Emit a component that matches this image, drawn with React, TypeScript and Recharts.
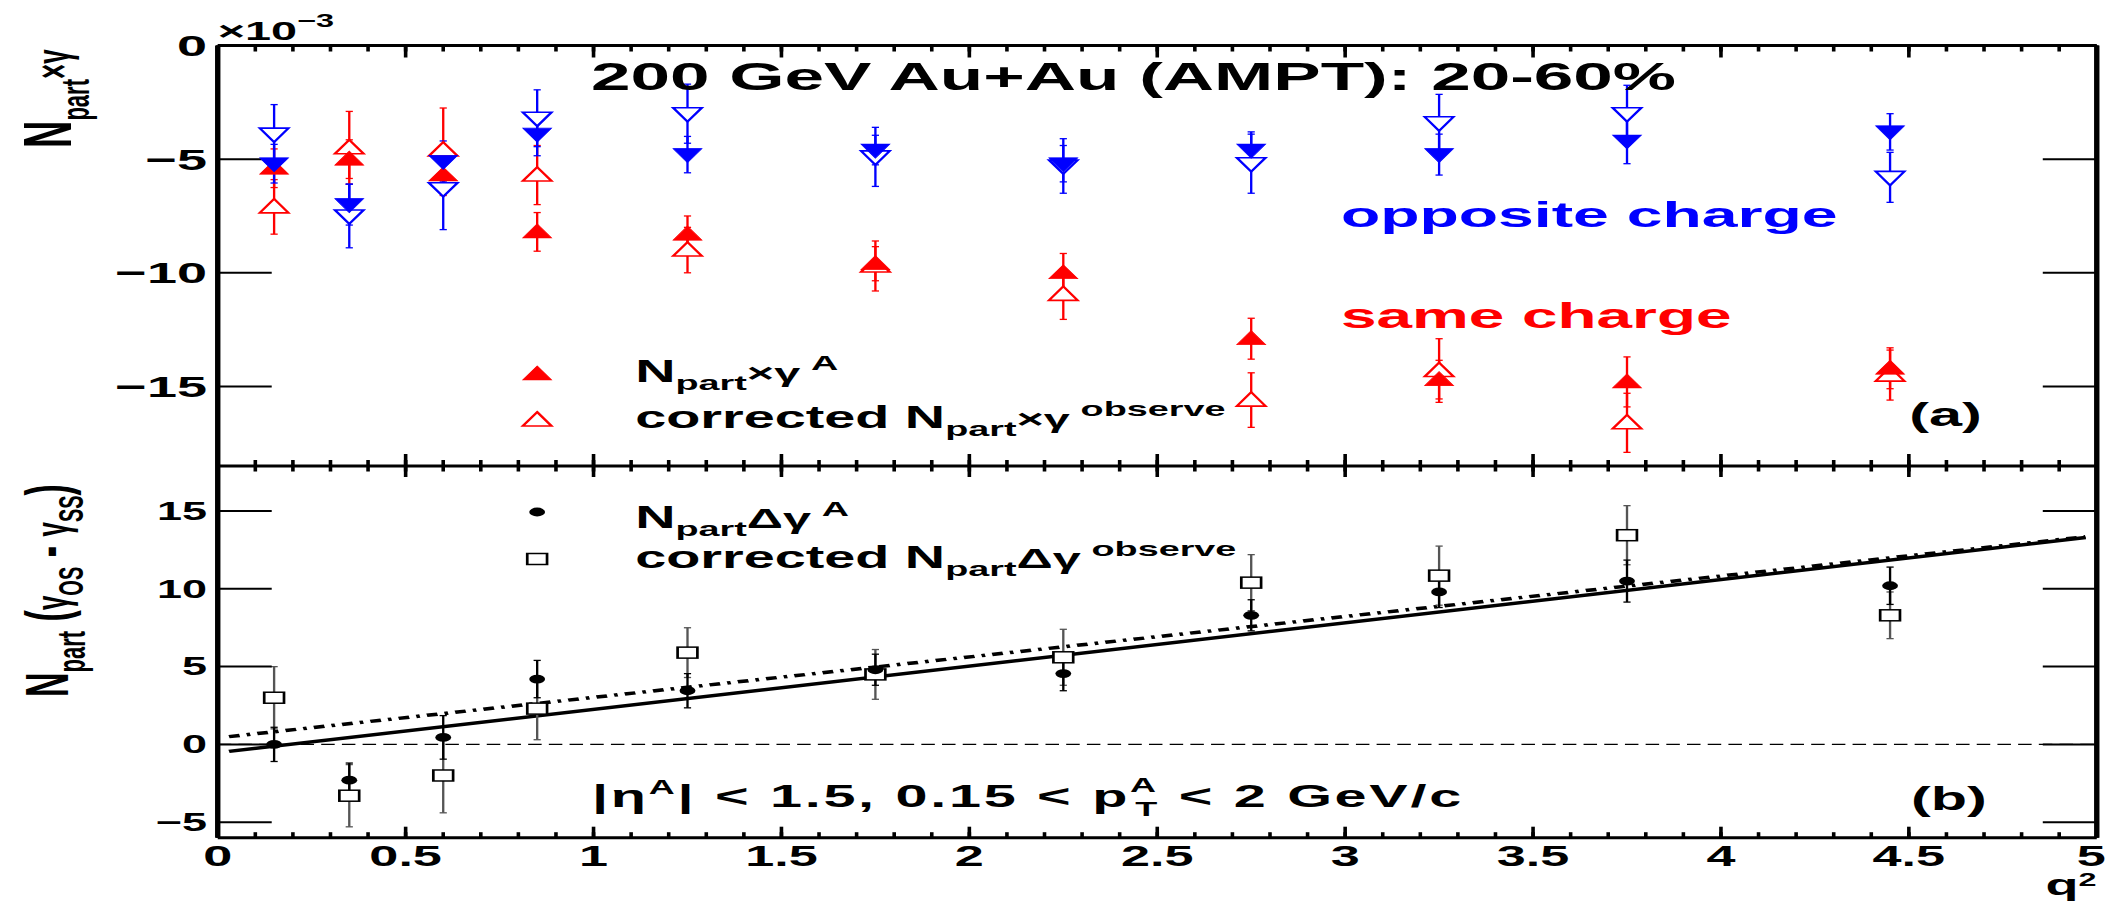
import React from 'react';
import { ComposedChart, Scatter, Line, XAxis, YAxis, ErrorBar, ReferenceLine, Legend, Text } from 'recharts';

// the reference is a ROOT figure stretched sideways, so everything is drawn
// at native width and scaled in x by the container
const W = 1172;
const SX = 2109 / W;

const qBins = [0.15, 0.35, 0.6, 0.85, 1.25, 1.75, 2.25, 2.75, 3.25, 3.75, 4.45];

// panel (a), N_part x gamma in units of 1e-3
const osA = [-5.2, -7.0, -5.1, -3.9, -4.8, -4.6, -5.2, -4.6, -4.8, -4.2, -3.8];
const osAErr = [0.85, 0.9, 0.9, 0.95, 0.8, 0.65, 0.8, 0.8, 0.9, 1.0, 0.8];
const osObs = [-3.9, -7.5, -6.3, -3.2, -3.0, -4.9, -5.3, -5.2, -3.4, -3.0, -5.8];
const osObsErr = [1.3, 1.4, 1.8, 1.25, 1.3, 1.3, 1.2, 1.3, 1.25, 1.25, 1.1];
const ssA = [-5.4, -5.0, -5.7, -8.2, -8.3, -9.6, -10.0, -12.9, -14.7, -14.8, -14.2];
const ssAErr = [0.85, 0.85, 0.9, 0.85, 0.8, 0.75, 0.85, 0.9, 0.85, 1.1, 0.9];
const ssObs = [-7.1, -4.5, -4.6, -5.7, -9.0, -9.7, -10.95, -15.6, -14.3, -16.6, -14.5];
const ssObsErr = [1.2, 1.6, 1.85, 1.3, 1.0, 1.1, 1.1, 1.2, 1.4, 1.3, 1.1];

// panel (b), N_part (gamma_OS - gamma_SS)
const dgA = [0.0, -2.3, 0.45, 4.2, 3.45, 4.8, 4.55, 8.3, 9.8, 10.5, 10.2];
const dgAErr = [1.1, 1.1, 1.4, 1.2, 1.1, 1.0, 1.1, 1.0, 1.0, 1.35, 1.2];
const dgObs = [3.0, -3.3, -2.0, 2.3, 5.9, 4.5, 5.6, 10.4, 10.85, 13.45, 8.3];
const dgObsErr = [2.0, 2.0, 2.4, 2.0, 1.6, 1.6, 1.8, 1.8, 1.9, 1.9, 1.5];

// linear fits
const fitQ = [0.03, 4.97];
const fitA = [-0.45, 13.3];
const fitObs = [0.5, 13.35];

const xMajorTicks = [0, 0.5, 1, 1.5, 2, 2.5, 3, 3.5, 4, 4.5, 5];
const xMinorTicks = Array.from({ length: 51 }, (_, i) => i / 10);
const yTicksA = [0, -5, -10, -15];
const yTicksB = [15, 10, 5, 0, -5];
const domainA = [-18.5, 0];
const domainB = [-6, 17.9];

const RED = '#ff0000';
const BLUE = '#0000ff';

const pts = (vals: number[], errs: number[]) => qBins.map((q, i) => ({ q, v: vals[i], e: errs[i] }));
const fitPts = (vals: number[]) => fitQ.map((q, i) => ({ q, v: vals[i] }));

const triUp = (color: string, open: boolean) => (p: any) => (
  <path
    d={`M${p.cx},${p.cy - 8}L${p.cx + 8},${p.cy + 6}L${p.cx - 8},${p.cy + 6}Z`}
    fill={open ? '#fff' : color}
    stroke={color}
    strokeWidth={open ? 1.6 : 0.6}
  />
);
const triDown = (color: string, open: boolean) => (p: any) => (
  <path
    d={`M${p.cx},${p.cy + 8}L${p.cx + 8},${p.cy - 6}L${p.cx - 8},${p.cy - 6}Z`}
    fill={open ? '#fff' : color}
    stroke={color}
    strokeWidth={open ? 1.6 : 0.6}
  />
);
const dot = (p: any) => <circle cx={p.cx} cy={p.cy} r={4.4} fill="#000" />;
const openSq = (p: any) => (
  <rect x={p.cx - 5.5} y={p.cy - 5.5} width={11} height={11} fill="#fff" stroke="#000" strokeWidth={1.5} />
);

const frame = { stroke: '#000', strokeWidth: 3 };
const tickLn = { stroke: '#000', strokeWidth: 2 };
const minus = (v: any) => String(v).replace('-', '\u2212');
const blank = () => '';

// x labels; the last one sits on the frame edge, pull it in a little
const XLabel = (p: any) => (
  <Text
    x={p.x - (p.payload.value === 5 ? 3 : 0)}
    y={p.y}
    textAnchor="middle"
    verticalAnchor="start"
    fontSize={29}
    fontWeight={700}
    fill="#000"
  >
    {String(p.payload.value)}
  </Text>
);

// inward ticks on all four sides, ROOT style
function frameAxes(yDomain: number[], yTicks: number[], major: number, minor: number) {
  const x = { type: 'number' as const, dataKey: 'q', domain: [0, 5], allowDataOverflow: true, interval: 0 as const, mirror: true, height: 0.01, tick: { fontSize: 1 }, tickFormatter: blank };
  const y = { type: 'number' as const, domain: yDomain, allowDataOverflow: true, interval: 0 as const, mirror: true, width: 0.01, tick: { fontSize: 1 }, tickFormatter: blank, ticks: yTicks, tickSize: 30, tickLine: tickLn };
  return [
    <XAxis key="bM" xAxisId="bM" orientation="bottom" ticks={xMajorTicks} tickSize={major} axisLine={frame} tickLine={tickLn} {...x} />,
    <XAxis key="bm" xAxisId="bm" orientation="bottom" ticks={xMinorTicks} tickSize={minor} axisLine={false} tickLine={tickLn} {...x} />,
    <XAxis key="tM" xAxisId="tM" orientation="top" ticks={xMajorTicks} tickSize={major} axisLine={frame} tickLine={tickLn} {...x} />,
    <XAxis key="tm" xAxisId="tm" orientation="top" ticks={xMinorTicks} tickSize={minor} axisLine={false} tickLine={tickLn} {...x} />,
    <YAxis key="lm" yAxisId="lm" orientation="left" axisLine={frame} {...y} />,
    <YAxis key="rm" yAxisId="rm" orientation="right" axisLine={frame} {...y} />,
  ];
}

const TopLegend = () => (
  <svg width={440} height={100} style={{ overflow: 'visible', fontWeight: 'bold' }}>
    {triUp(RED, false)({ cx: 18.5, cy: 24 })}
    <text x={73} y={32} fontSize={31}>
      N<tspan fontSize={21} dy={8}>part</tspan>
      <tspan fontSize={26} dy={-8}>×γ</tspan>
      <tspan fontSize={21} dy={-12} dx={6}>A</tspan>
    </text>
    {triUp(RED, true)({ cx: 18.5, cy: 70 })}
    <text x={73} y={78} fontSize={31}>
      corrected N<tspan fontSize={21} dy={8}>part</tspan>
      <tspan fontSize={26} dy={-8}>×γ</tspan>
      <tspan fontSize={21} dy={-12} dx={6}>observe</tspan>
    </text>
  </svg>
);

const BottomLegend = () => (
  <svg width={440} height={100} style={{ overflow: 'visible', fontWeight: 'bold' }}>
    {dot({ cx: 18.5, cy: 26 })}
    <text x={73} y={42} fontSize={31}>
      N<tspan fontSize={21} dy={8}>part</tspan>
      <tspan fontSize={28} dy={-8}>Δγ</tspan>
      <tspan fontSize={21} dy={-12} dx={6}>A</tspan>
    </text>
    {openSq({ cx: 18.5, cy: 73 })}
    <text x={73} y={82} fontSize={31}>
      corrected N<tspan fontSize={21} dy={8}>part</tspan>
      <tspan fontSize={28} dy={-8}>Δγ</tspan>
      <tspan fontSize={21} dy={-12} dx={6}>observe</tspan>
    </text>
  </svg>
);

export default function App() {
  return (
    <div
      style={{
        position: 'absolute',
        left: 0,
        top: 0,
        width: W,
        height: 903,
        transform: `scaleX(${SX})`,
        transformOrigin: '0 0',
        background: '#fff',
        fontFamily: '"Liberation Sans", Arial, Helvetica, sans-serif',
        fontWeight: 'bold',
      }}
    >
      <div style={{ position: 'absolute', left: 0, top: 0 }}>
        <ComposedChart width={W} height={466} margin={{ top: 45.5, right: 6.8, bottom: 0, left: 0 }}>
          {frameAxes(domainA, yTicksA, 12, 6)}
          <YAxis
            yAxisId="lab"
            type="number"
            domain={domainA}
            allowDataOverflow
            ticks={yTicksA}
            interval={0}
            width={121}
            axisLine={false}
            tickLine={false}
            tickSize={0}
            tickMargin={6}
            tick={{ fontSize: 30, fontWeight: 700, fill: '#000' }}
            tickFormatter={minus}
          />
          <Legend
            layout="horizontal"
            verticalAlign="middle"
            align="center"
            wrapperStyle={{ left: 280, top: 350, width: 440, height: 100 }}
            content={() => <TopLegend />}
          />
          <Scatter xAxisId="bM" yAxisId="lab" data={pts(ssObs, ssObsErr)} dataKey="v" shape={triUp(RED, true)} isAnimationActive={false}>
            <ErrorBar dataKey="e" direction="y" width={2} stroke={RED} strokeWidth={1.3} isAnimationActive={false} />
          </Scatter>
          <Scatter xAxisId="bM" yAxisId="lab" data={pts(ssA, ssAErr)} dataKey="v" shape={triUp(RED, false)} isAnimationActive={false}>
            <ErrorBar dataKey="e" direction="y" width={2} stroke={RED} strokeWidth={1.3} isAnimationActive={false} />
          </Scatter>
          <Scatter xAxisId="bM" yAxisId="lab" data={pts(osObs, osObsErr)} dataKey="v" shape={triDown(BLUE, true)} isAnimationActive={false}>
            <ErrorBar dataKey="e" direction="y" width={2} stroke={BLUE} strokeWidth={1.3} isAnimationActive={false} />
          </Scatter>
          <Scatter xAxisId="bM" yAxisId="lab" data={pts(osA, osAErr)} dataKey="v" shape={triDown(BLUE, false)} isAnimationActive={false}>
            <ErrorBar dataKey="e" direction="y" width={2} stroke={BLUE} strokeWidth={1.3} isAnimationActive={false} />
          </Scatter>
        </ComposedChart>
      </div>

      <div style={{ position: 'absolute', left: 0, top: 466 }}>
        <ComposedChart width={W} height={437} margin={{ top: 0, right: 6.8, bottom: 0, left: 0 }}>
          {frameAxes(domainB, yTicksB, 11, 5.5)}
          <XAxis
            xAxisId="lab"
            type="number"
            dataKey="q"
            domain={[0, 5]}
            allowDataOverflow
            ticks={xMajorTicks}
            interval={0}
            height={65.3}
            axisLine={false}
            tickLine={false}
            tickSize={0}
            tickMargin={8}
            tick={<XLabel />}
          />
          <YAxis
            yAxisId="lab"
            type="number"
            domain={domainB}
            allowDataOverflow
            ticks={yTicksB}
            interval={0}
            width={121}
            axisLine={false}
            tickLine={false}
            tickSize={0}
            tickMargin={6}
            tick={{ fontSize: 25, fontWeight: 700, fill: '#000' }}
            tickFormatter={minus}
          />
          <Legend
            layout="horizontal"
            verticalAlign="middle"
            align="center"
            wrapperStyle={{ left: 280, top: 20, width: 440, height: 100 }}
            content={() => <BottomLegend />}
          />
          <ReferenceLine xAxisId="bM" yAxisId="lab" y={0} stroke="#000" strokeWidth={1.2} strokeDasharray="7.5 4" />
          <Line xAxisId="bM" yAxisId="lab" data={fitPts(fitObs)} dataKey="v" stroke="#000" strokeWidth={3.5} strokeDasharray="6 4 2 4" dot={false} isAnimationActive={false} />
          <Line xAxisId="bM" yAxisId="lab" data={fitPts(fitA)} dataKey="v" stroke="#000" strokeWidth={3.5} dot={false} isAnimationActive={false} />
          <Scatter xAxisId="bM" yAxisId="lab" data={pts(dgObs, dgObsErr)} dataKey="v" shape={openSq} isAnimationActive={false}>
            <ErrorBar dataKey="e" direction="y" width={2} stroke="#555" strokeWidth={1.3} isAnimationActive={false} />
          </Scatter>
          <Scatter xAxisId="bM" yAxisId="lab" data={pts(dgA, dgAErr)} dataKey="v" shape={dot} isAnimationActive={false}>
            <ErrorBar dataKey="e" direction="y" width={2} stroke="#000" strokeWidth={1.3} isAnimationActive={false} />
          </Scatter>
        </ComposedChart>
      </div>

      {/* titles and annotations */}
      <svg width={W} height={903} style={{ position: 'absolute', left: 0, top: 0, pointerEvents: 'none', fontWeight: 'bold' }}>
        <text x={121} y={40} fontSize={26}>
          ×10<tspan fontSize={18} dy={-13}>−3</tspan>
        </text>
        <text x={328.4} y={90} fontSize={39} textLength={603} lengthAdjust="spacingAndGlyphs">
          200 GeV Au+Au (AMPT): 20-60%
        </text>
        <text x={745.2} y={227} fontSize={36} fill={BLUE} textLength={276} lengthAdjust="spacingAndGlyphs">
          opposite charge
        </text>
        <text x={745.2} y={328} fontSize={36} fill={RED} textLength={217} lengthAdjust="spacingAndGlyphs">
          same charge
        </text>
        <text x={1061} y={426} fontSize={33}>(a)</text>
        <text x={1062} y={810} fontSize={33}>(b)</text>
        <text x={329} y={807} fontSize={32} textLength={483} lengthAdjust="spacing">
          |η<tspan fontSize={20} dy={-13}>A</tspan>
          <tspan dy={13}>| &lt; 1.5, 0.15 &lt; p</tspan>
          <tspan fontSize={20} dy={-15}>A</tspan>
          <tspan fontSize={20} dx={-13} dy={24}>T</tspan>
          <tspan dy={-9}> &lt; 2 GeV/c</tspan>
        </text>
        <text transform="translate(39.5,148) rotate(-90)" fontSize={38}>
          N<tspan fontSize={22} dy={10}>part</tspan>
          <tspan fontSize={26} dy={-11}>×γ</tspan>
        </text>
        <text transform="translate(38,697) rotate(-90)" fontSize={34}>
          N<tspan fontSize={22} dy={9}>part</tspan>
          <tspan dy={-9}> (</tspan>
          <tspan fontSize={26}>γ</tspan>
          <tspan fontSize={20} dy={8}>OS</tspan>
          <tspan dy={-8}> - </tspan>
          <tspan fontSize={26}>γ</tspan>
          <tspan fontSize={20} dy={8}>SS</tspan>
          <tspan dy={-8}>)</tspan>
        </text>
        <text x={1165} y={895} fontSize={30} textAnchor="end">
          q<tspan fontSize={18} dy={-9}>2</tspan>
        </text>
      </svg>
    </div>
  );
}
